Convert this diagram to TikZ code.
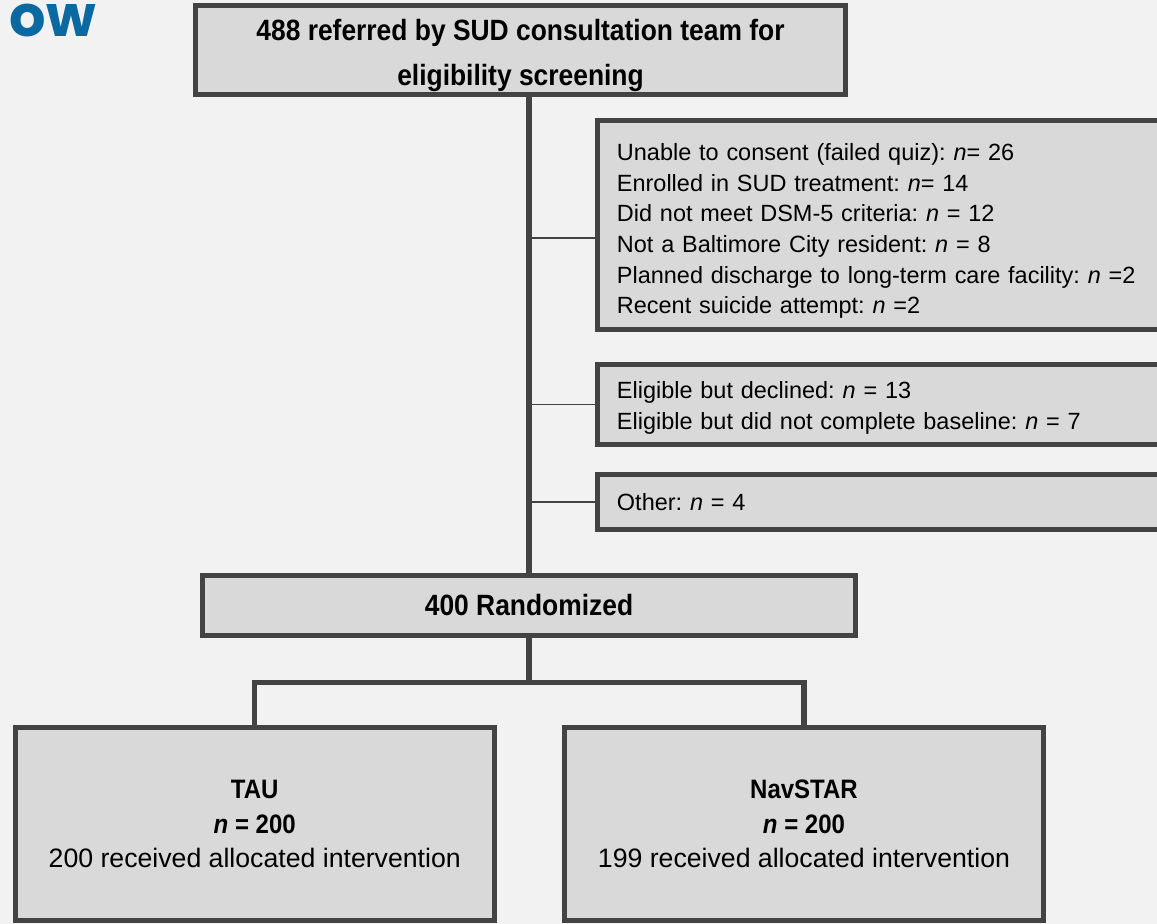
\documentclass[tikz,border=0pt]{standalone}
\usepackage{fontspec}
\setmainfont{Liberation Sans}
\newfontfamily\headfont{Liberation Sans}[FakeStretch=0.9]
\newfontfamily\titlefont{Poppins}
\frenchspacing
\usetikzlibrary{positioning}
\definecolor{pagegray}{HTML}{F2F2F2}
\definecolor{boxgray}{HTML}{D9D9D9}
\definecolor{edgegray}{HTML}{434343}
\definecolor{titleblue}{HTML}{0A69A1}

\begin{document}
\begin{tikzpicture}[
  x=0.75pt, y=-0.75pt,
  box/.style={draw=edgegray, fill=boxgray, line width=3.75pt, outer sep=0pt,
    inner sep=0pt, align=center},
  head/.style={box, font=\headfont\bfseries\fontsize{22}{34}\selectfont},
  excl/.style={box, anchor=west, align=left, text width=400pt, inner xsep=14.6pt,
    font=\fontsize{17.6}{23}\selectfont},
  arm/.style={box, minimum width=359.6pt, minimum height=144.75pt,
    font=\fontsize{20}{26}\selectfont},
  trunk/.style={draw=edgegray, line width=4pt},
  link/.style={draw=edgegray, line width=1.3pt}
]
\useasboundingbox (0,0) rectangle (1157,924);
\clip (0,0) rectangle (1157,924);
\fill[pagegray] (0,0) rectangle (1157,924);

\node[font=\titlefont\bfseries\fontsize{43}{43}\selectfont, text=titleblue,
  anchor=base east, inner sep=0pt] (title) at (96,37) {ow};

\node[head, minimum width=487.5pt, minimum height=66.75pt] (screen) at (520.5,50)
  {\rule{0pt}{24pt}488 referred by SUD consultation team for\\eligibility screening};

\node[excl, minimum height=156.75pt] (excl1) at (597.5,225)
  {\rule{0pt}{22pt}Unable to consent (failed quiz): \textit{n}= 26\\
   Enrolled in SUD treatment: \textit{n}= 14\\
   Did not meet DSM-5 criteria: \textit{n} = 12\\
   Not a Baltimore City resident: \textit{n} = 8\\
   Planned discharge to long-term care facility: \textit{n} =2\\
   Recent suicide attempt: \textit{n} =2};
\node[excl, minimum height=60pt] (excl2) at (597.5,404.5)
  {\rule{0pt}{18pt}Eligible but declined: \textit{n} = 13\\
   Eligible but did not complete baseline: \textit{n} = 7};
\node[excl, minimum height=41.25pt] (excl3) at (597.5,502)
  {Other: \textit{n} = 4};

\node[head, minimum width=489.75pt, minimum height=45pt] (rand) at (529,605.5)
  {400 Randomized};

\node[arm] (tau) at (254.75,824)
  {{\headfont\bfseries TAU}\\{\headfont\bfseries\textit{n} = 200}\\
   200 received allocated intervention};
\node[arm] (nav) at (804,824)
  {{\headfont\bfseries NavSTAR}\\{\headfont\bfseries\textit{n} = 200}\\
   199 received allocated intervention};

% screening trunk and exclusions
\draw[trunk] (rand.north |- screen.south) -- (rand.north);
\path (excl1.west) ++(0,13) coordinate (e1in);
\draw[link] (e1in) -- (e1in -| rand.north);
\draw[link] (excl2.west) -- (excl2.west -| rand.north);
\draw[link] (excl3.west) -- (excl3.west -| rand.north);

% allocation
\coordinate (split) at (529,682.5);
\draw[trunk] (rand.south) -- (split);
\draw[trunk] (tau.north) |- (split) -| (nav.north);
\end{tikzpicture}
\end{document}
